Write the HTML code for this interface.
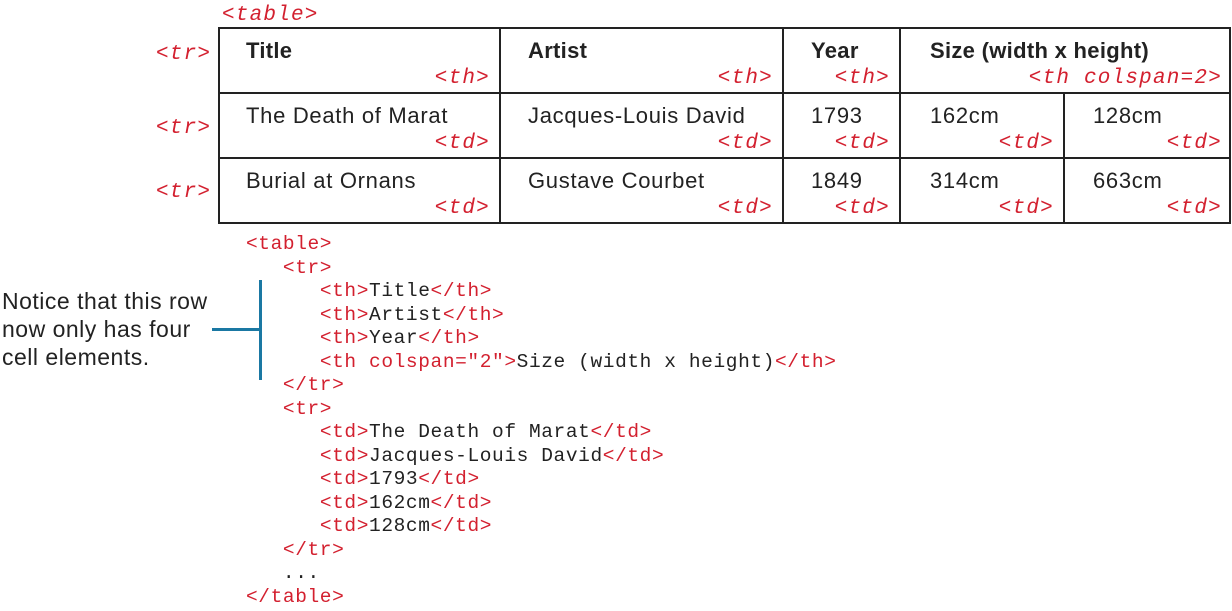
<!DOCTYPE html>
<html><head><meta charset="utf-8"><style>
body{margin:0;width:1232px;height:611px;background:#fff;position:relative;overflow:hidden;font-family:"Liberation Sans",sans-serif}
.a{position:absolute;white-space:pre}
.r{color:#d3202f}
.tag{position:absolute;font-family:"Liberation Mono",monospace;font-style:italic;font-size:21px;letter-spacing:1.2px;color:#d3202f;white-space:pre;line-height:1}
.tr{text-align:right}
.cell{position:absolute;font-size:22px;letter-spacing:0.7px;color:#222;line-height:1;white-space:pre}
.b{font-weight:bold;letter-spacing:0.3px}
.code{position:absolute;left:246px;top:233px;font-family:"Liberation Mono",monospace;font-size:19.5px;letter-spacing:0.6px;line-height:23.5px;color:#222;white-space:pre}
.h{position:absolute;background:#222}
</style></head><body>
<div class="tag" style="left:222px;top:5px">&lt;table&gt;</div>
<div class="tag" style="left:156px;top:44px">&lt;tr&gt;</div>
<div class="tag" style="left:156px;top:118px">&lt;tr&gt;</div>
<div class="tag" style="left:156px;top:182px">&lt;tr&gt;</div>

<div style="position:absolute;left:218px;top:27px;width:1009px;height:193px;border:2px solid #222"></div>
<div class="h" style="left:218px;top:92px;width:1011px;height:2px"></div>
<div class="h" style="left:218px;top:157px;width:1011px;height:2px"></div>
<div class="h" style="left:499px;top:27px;width:2px;height:195px"></div>
<div class="h" style="left:782px;top:27px;width:2px;height:195px"></div>
<div class="h" style="left:899px;top:27px;width:2px;height:195px"></div>
<div class="h" style="left:1063px;top:93px;width:2px;height:129px"></div>

<div class="cell b" style="left:246px;top:40px">Title</div>
<div class="cell b" style="left:528px;top:40px">Artist</div>
<div class="cell b" style="left:811px;top:40px">Year</div>
<div class="cell b" style="left:930px;top:40px">Size (width x height)</div>
<div class="cell" style="left:246px;top:105px">The Death of Marat</div>
<div class="cell" style="left:528px;top:105px">Jacques-Louis David</div>
<div class="cell" style="left:811px;top:105px">1793</div>
<div class="cell" style="left:930px;top:105px">162cm</div>
<div class="cell" style="left:1093px;top:105px">128cm</div>
<div class="cell" style="left:246px;top:170px">Burial at Ornans</div>
<div class="cell" style="left:528px;top:170px">Gustave Courbet</div>
<div class="cell" style="left:811px;top:170px">1849</div>
<div class="cell" style="left:930px;top:170px">314cm</div>
<div class="cell" style="left:1093px;top:170px">663cm</div>

<div class="tag tr" style="right:742px;top:68px">&lt;th&gt;</div>
<div class="tag tr" style="right:459px;top:68px">&lt;th&gt;</div>
<div class="tag tr" style="right:342px;top:68px">&lt;th&gt;</div>
<div class="tag tr" style="right:10px;top:68px">&lt;th colspan=2&gt;</div>
<div class="tag tr" style="right:742px;top:133px">&lt;td&gt;</div>
<div class="tag tr" style="right:459px;top:133px">&lt;td&gt;</div>
<div class="tag tr" style="right:342px;top:133px">&lt;td&gt;</div>
<div class="tag tr" style="right:178px;top:133px">&lt;td&gt;</div>
<div class="tag tr" style="right:10px;top:133px">&lt;td&gt;</div>
<div class="tag tr" style="right:742px;top:198px">&lt;td&gt;</div>
<div class="tag tr" style="right:459px;top:198px">&lt;td&gt;</div>
<div class="tag tr" style="right:342px;top:198px">&lt;td&gt;</div>
<div class="tag tr" style="right:178px;top:198px">&lt;td&gt;</div>
<div class="tag tr" style="right:10px;top:198px">&lt;td&gt;</div>

<div class="code"><span class="r">&lt;table&gt;</span>
   <span class="r">&lt;tr&gt;</span>
      <span class="r">&lt;th&gt;</span>Title<span class="r">&lt;/th&gt;</span>
      <span class="r">&lt;th&gt;</span>Artist<span class="r">&lt;/th&gt;</span>
      <span class="r">&lt;th&gt;</span>Year<span class="r">&lt;/th&gt;</span>
      <span class="r">&lt;th colspan="2"&gt;</span>Size (width x height)<span class="r">&lt;/th&gt;</span>
   <span class="r">&lt;/tr&gt;</span>
   <span class="r">&lt;tr&gt;</span>
      <span class="r">&lt;td&gt;</span>The Death of Marat<span class="r">&lt;/td&gt;</span>
      <span class="r">&lt;td&gt;</span>Jacques-Louis David<span class="r">&lt;/td&gt;</span>
      <span class="r">&lt;td&gt;</span>1793<span class="r">&lt;/td&gt;</span>
      <span class="r">&lt;td&gt;</span>162cm<span class="r">&lt;/td&gt;</span>
      <span class="r">&lt;td&gt;</span>128cm<span class="r">&lt;/td&gt;</span>
   <span class="r">&lt;/tr&gt;</span>
   ...
<span class="r">&lt;/table&gt;</span></div>

<div class="a" style="left:2px;top:287px;font-size:23px;letter-spacing:0.5px;line-height:28px;color:#222">Notice that this row
now only has four
cell elements.</div>
<div style="position:absolute;left:212px;top:328px;width:50px;height:3px;background:#1a78a3"></div>
<div style="position:absolute;left:259px;top:280px;width:3px;height:100px;background:#1a78a3"></div>
</body></html>
